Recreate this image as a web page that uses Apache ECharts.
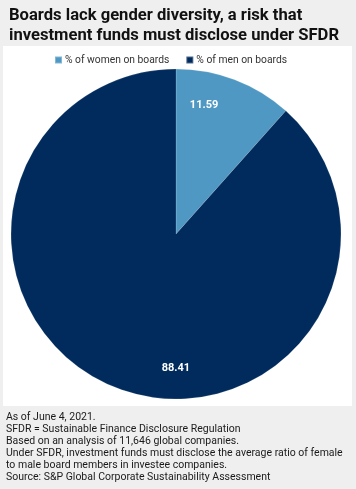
<!DOCTYPE html>
<html><head><meta charset="utf-8">
<script src="https://cdn.jsdelivr.net/npm/echarts@6/dist/echarts.min.js"></script>
<style>html,body{margin:0;padding:0;background:#efefef;}#c{width:356px;height:489px;}</style>
</head><body><div id="c"></div>
<script>
const categories = ['% of women on boards', '% of men on boards'];
const values = [11.59, 88.41];
const colors = ['#4f98c3', '#002b5c'];
const titleText = 'Boards lack gender diversity, a risk that\ninvestment funds must disclose under SFDR';
const footnotes = [
  'As of June 4, 2021.',
  'SFDR = Sustainable Finance Disclosure Regulation',
  'Based on an analysis of 11,646 global companies.',
  'Under SFDR, investment funds must disclose the average ratio of female',
  'to male board members in investee companies.',
  'Source: S&P Global Corporate Sustainability Assessment'
];
const labelOffsets = [[-20, -3], [48, 8]];
const FONT = 'Roboto, "Liberation Sans", Arial, sans-serif';
const data = categories.map((n, i) => ({name: n, value: values[i], itemStyle: {color: colors[i]}}));
const chart = echarts.init(document.getElementById('c'), null, {renderer: 'canvas'});
const R = 165;
chart.setOption({
  backgroundColor: '#efefef',
  animation: false,
  graphic: [
    {type: 'rect', z: -10, shape: {x: 3, y: 46, width: 349, height: 360}, style: {fill: '#ffffff'}},
    {type: 'text', left: 6, top: 411, style: {text: footnotes.join('\n'), font: '10.5px ' + FONT, fill: '#1a1a1a', lineHeight: 12}}
  ],
  title: {
    text: titleText, left: 4, top: 1,
    textStyle: {fontFamily: FONT, fontWeight: 'bold', fontSize: 16.6, color: '#111', lineHeight: 20}
  },
  legend: {
    data: categories, top: 50, left: 49, itemWidth: 7, itemHeight: 7, itemGap: 16,
    icon: 'rect',
    textStyle: {fontFamily: FONT, fontSize: 10.3, color: '#333', padding: [0,0,0,-2]}
  },
  series: [
    {
      type: 'pie', center: [176, 234], radius: [0, R], startAngle: 90, clockwise: true,
      data: data, label: {show: false}, labelLine: {show: false},
      itemStyle: {borderColor: 'rgba(255,255,255,0.3)', borderWidth: 0.5},
      emphasis: {disabled: true}
    },
    {
      type: 'pie', center: [176, 234], radius: [R * 0.6, R], startAngle: 90, clockwise: true,
      data: values.map((v, i) => ({name: categories[i], value: v, label: {offset: labelOffsets[i]}})),
      itemStyle: {color: 'rgba(0,0,0,0)'}, silent: true, legendHoverLink: false,
      label: {show: true, position: 'inside', formatter: '{c}', color: '#fff', fontWeight: 'bold', fontSize: 11, fontFamily: FONT},
      labelLine: {show: false}, emphasis: {disabled: true}
    }
  ]
});
</script></body></html>
